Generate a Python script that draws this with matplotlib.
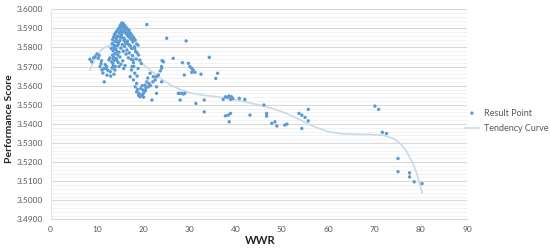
import matplotlib.pyplot as plt
from matplotlib.ticker import MultipleLocator, FormatStrFormatter

plt.rcParams['font.family'] = ['Lato', 'DejaVu Sans']

# result points (WWR, performance score)
wwr_left = [8.5, 8.9, 9.3, 9.6, 10.0, 10.3, 10.5, 10.7, 11.0, 11.1, 11.3, 11.6, 11.8, 12.1,
            12.4, 12.6, 12.9, 13.0, 13.2, 13.5, 13.9, 14.3, 14.4, 12.2, 10.9, 11.5, 13.7, 14.8,
            12.8, 13.4, 12.0]
score_left = [3.5738, 3.5725, 3.5745, 3.5752, 3.5766, 3.5743, 3.5758, 3.5700, 3.5730, 3.5682,
              3.5666, 3.5620, 3.5710, 3.5700, 3.5680, 3.5735, 3.5673, 3.5650, 3.5725, 3.5700,
              3.5682, 3.5734, 3.5778, 3.5655, 3.5715, 3.5690, 3.5660, 3.5700,
              3.5745, 3.5760, 3.5690]

wwr_peak = [15.4, 15.7, 15.1, 16.0, 15.5, 14.9, 16.3, 15.8, 14.6, 16.6, 15.2, 16.1, 14.3, 17.0,
            15.6, 16.8, 14.0, 14.8, 17.3, 16.4, 13.8, 15.3, 17.6, 14.5, 16.9, 13.6, 18.0, 15.9,
            14.2, 17.4, 13.4, 18.3, 15.0, 16.6, 13.9, 17.8, 14.7, 16.2, 13.3, 18.6, 15.5, 17.1,
            14.4, 16.0, 18.1, 13.7, 15.2, 17.5, 14.1, 16.5, 13.5, 15.7, 18.4, 14.8, 17.0, 13.9,
            16.3, 14.5, 17.7, 13.6, 15.0, 16.8, 14.2, 17.4, 13.8, 15.6, 14.6, 17.9, 13.5, 15.2,
            16.1, 14.0, 17.6, 13.3, 15.8, 16.7, 15.9, 14.9, 16.4, 17.2,
            14.1, 15.3, 16.9, 18.9, 13.1, 17.7, 14.6, 16.2, 18.2, 15.0, 13.8, 17.2, 15.9, 14.4,
            16.7, 18.7, 13.5, 15.4]
score_peak = [3.5928, 3.5925, 3.5918, 3.5915, 3.5910, 3.5905, 3.5905, 3.5900, 3.5895, 3.5897,
              3.5893, 3.5890, 3.5885, 3.5888, 3.5882, 3.5880, 3.5876, 3.5875, 3.5873, 3.5870,
              3.5866, 3.5865, 3.5862, 3.5858, 3.5857, 3.5853, 3.5850, 3.5848, 3.5845, 3.5843,
              3.5840, 3.5838, 3.5836, 3.5834, 3.5830, 3.5828, 3.5825, 3.5822, 3.5820, 3.5818,
              3.5815, 3.5812, 3.5808, 3.5805, 3.5803, 3.5800, 3.5797, 3.5795, 3.5790, 3.5787,
              3.5783, 3.5780, 3.5778, 3.5775, 3.5772, 3.5768, 3.5765, 3.5760, 3.5757, 3.5752,
              3.5750, 3.5746, 3.5742, 3.5738, 3.5733, 3.5730, 3.5722, 3.5720, 3.5715, 3.5712,
              3.5705, 3.5700, 3.5700, 3.5692, 3.5690, 3.5860, 3.5842, 3.5855, 3.5826, 3.5808,
              3.5860, 3.5852, 3.5865, 3.5812, 3.5795, 3.5840, 3.5815, 3.5878, 3.5792, 3.5880,
              3.5810, 3.5850, 3.5835, 3.5830, 3.5818, 3.5772, 3.5742, 3.5872]

wwr_branch = [17.8, 17.5, 17.2, 17.9, 18.3, 18.6, 19.0, 19.3, 20.0, 20.4, 20.8, 21.1, 21.9, 22.6,
              22.9, 23.3, 24.0, 24.4, 18.6, 18.8, 19.1, 19.6, 19.9, 20.2, 20.6, 19.3, 19.6, 21.5,
              21.0, 21.3, 21.6, 22.1, 22.2, 22.9, 22.9, 24.0, 24.1, 23.7, 24.0, 18.2, 18.9, 19.8,
              20.5, 20.1, 19.5, 18.0, 18.5, 19.0, 18.7, 20.8]
score_branch = [3.5734, 3.5682, 3.5647, 3.5630, 3.5594, 3.5568, 3.5550, 3.5542, 3.5577, 3.5603,
                3.5620, 3.5594, 3.5525, 3.5630, 3.5647, 3.5656, 3.5700, 3.5725, 3.5612, 3.5580,
                3.5560, 3.5548, 3.5555, 3.5565, 3.5590, 3.5734, 3.5716, 3.5665, 3.5640, 3.5610,
                3.5600, 3.5620, 3.5647, 3.5594, 3.5560, 3.5620, 3.5731, 3.5677, 3.5691, 3.5665,
                3.5690, 3.5600, 3.5575, 3.5540, 3.5585, 3.5700, 3.5740, 3.5760, 3.5650, 3.5920]

wwr_mid = [25.1, 26.5, 27.6, 27.8, 28.0, 28.3, 28.5, 28.7, 28.9, 29.0, 29.3, 29.8, 30.1, 30.5,
           30.5, 30.8, 31.2, 31.4, 32.5, 33.2, 33.2, 34.3, 35.7, 36.1, 37.3, 37.8, 38.2, 38.6,
           38.9, 39.1, 39.4, 40.8, 42.0, 37.8, 38.4, 38.9, 38.6, 43.1]
score_mid = [3.5848, 3.5743, 3.5560, 3.5560, 3.5525, 3.5560, 3.5720, 3.5556, 3.5656, 3.5560,
             3.5834, 3.5717, 3.5700, 3.5691, 3.5670, 3.5682, 3.5670, 3.5507, 3.5660, 3.5525,
             3.5463, 3.5748, 3.5638, 3.5665, 3.5528, 3.5542, 3.5539, 3.5546, 3.5528, 3.5542,
             3.5532, 3.5534, 3.5528, 3.5442, 3.5446, 3.5455, 3.5411, 3.5446]

wwr_right = [46.1, 46.7, 46.7, 47.8, 48.5, 48.9, 50.6, 51.1, 53.7, 54.3, 55.0, 55.7, 55.7, 54.3,
             70.1, 70.9, 71.7, 72.6, 75.1, 75.1, 77.6, 77.6, 78.6, 80.3]
score_right = [3.5499, 3.5455, 3.5441, 3.5403, 3.5411, 3.5389, 3.5394, 3.5399, 3.5455, 3.5446,
               3.5434, 3.5416, 3.5476, 3.5376, 3.5493, 3.5476, 3.5356, 3.5350, 3.5219, 3.5150,
               3.5144, 3.5123, 3.5097, 3.5088]

# tendency curve
curve_wwr = [8.5, 9.5, 10.5, 11.5, 12.5, 13.5, 14.5, 16, 18, 20, 22, 24, 26, 28, 30, 33, 36,
             39, 42, 45, 48, 51, 54, 57, 60, 63, 66, 69, 72, 74, 75.5, 77, 78.3, 79.3, 80.3]
curve_score = [3.5682, 3.5735, 3.5775, 3.5798, 3.5808, 3.5808, 3.5800, 3.5782, 3.5750, 3.5712,
               3.5672, 3.5634, 3.5603, 3.5580, 3.5563, 3.5550, 3.5542, 3.5530, 3.5515, 3.5500,
               3.5480, 3.5455, 3.5420, 3.5385, 3.5360, 3.5348, 3.5345, 3.5345, 3.5340, 3.5325,
               3.5300, 3.5255, 3.5195, 3.5130, 3.5040]

wwr = wwr_left + wwr_peak + wwr_branch + wwr_mid + wwr_right
score = score_left + score_peak + score_branch + score_mid + score_right

fig = plt.figure(figsize=(5.5, 2.49), dpi=100)
ax = fig.add_axes([0.092, 0.1185, 0.757, 0.8445])

ax.plot(curve_wwr, curve_score, color='#C9DAE6', lw=1.2, zorder=2, label='Tendency Curve')
ax.scatter(wwr, score, s=6, color='#5B9BD5', edgecolors='none', zorder=3, label='Result Point')

ax.set_xlim(0, 90)
ax.set_ylim(3.49, 3.60)
ax.xaxis.set_major_locator(MultipleLocator(10))
ax.yaxis.set_major_locator(MultipleLocator(0.01))
ax.yaxis.set_minor_locator(MultipleLocator(0.002))
ax.yaxis.set_major_formatter(FormatStrFormatter('%.4f'))
ax.grid(axis='y', which='major', color='#D9D9D9', lw=0.8, zorder=0)
ax.grid(axis='y', which='minor', color='#F0F0F0', lw=0.6, zorder=0)
ax.set_axisbelow(True)

for side in ['top', 'right']:
    ax.spines[side].set_visible(False)
ax.spines['left'].set_color('#E6E6E6')
ax.spines['bottom'].set_color('#D9D9D9')
ax.tick_params(axis='both', which='both', length=0, labelsize=6, colors='#595959')
ax.tick_params(axis='y', pad=5.5)
ax.tick_params(axis='x', pad=5)

ax.set_xlabel('WWR', fontsize=8, fontweight='bold', color='#222222', va='center')
ax.set_ylabel('Performance Score', fontsize=7.5, fontweight='bold', color='#222222', va='center')
ax.xaxis.set_label_coords(0.503, -0.098)
ax.yaxis.set_label_coords(-0.0996, 0.478)

handles, labels = ax.get_legend_handles_labels()
ax.legend(handles[::-1], labels[::-1], loc='center left', bbox_to_anchor=(0.975, 0.47),
          frameon=False, fontsize=6.5, labelcolor='#595959', handlelength=1.6,
          handletextpad=0.5, labelspacing=0.7, markerscale=1.0)

plt.savefig('out.png', dpi=100)
